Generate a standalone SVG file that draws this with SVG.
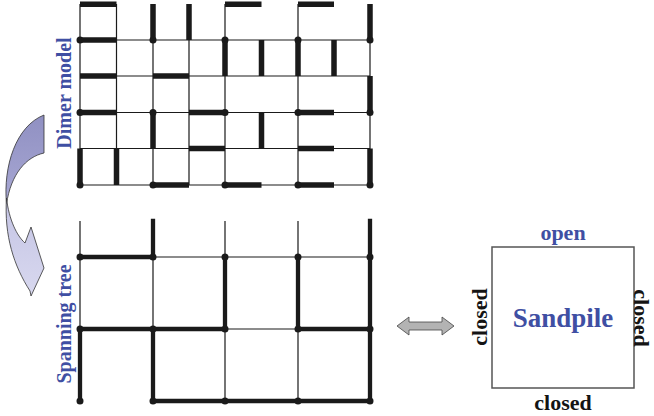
<svg xmlns="http://www.w3.org/2000/svg" width="654" height="416" viewBox="0 0 654 416">
<defs>
<style>
.thin{stroke:#1a1a1a;stroke-width:1.2;fill:none}
.dim{stroke:#1a1a1a;stroke-width:5.5;fill:none;stroke-linecap:butt}
.tr{stroke:#1a1a1a;stroke-width:4.3;fill:none;stroke-linecap:square}
.dot{fill:#1a1a1a}
.lbl{font-family:"Liberation Serif","Times New Roman",serif;font-weight:bold;fill:#3f4fa3}
.blk{font-family:"Liberation Serif","Times New Roman",serif;font-weight:bold;fill:#141414;font-size:22px}
</style>
<linearGradient id="gDark" x1="0" y1="0" x2="0" y2="1">
<stop offset="0" stop-color="#9090c2"/>
<stop offset="1" stop-color="#a8a8d4"/>
</linearGradient>
<linearGradient id="gLight" x1="0" y1="0" x2="0" y2="1">
<stop offset="0" stop-color="#c4c4e4"/>
<stop offset="1" stop-color="#d8d8ef"/>
</linearGradient>
</defs>
<rect width="654" height="416" fill="#ffffff"/>

<g id="dimer-model">
<g class="thin">
<path d="M80,40H370M80,76H370M80,112.5H370M80,148.5H370M80,185H370"/>
<path d="M80,4V185M116.5,4V185M153,4V185M189,4V185M225,4V185M298,4V185M370,4V185"/>
</g>
<g class="dim">
<path d="M80,4.2H116.5M225,4.2H261.5M298,4.2H334M80,40H116.5M80,76H116.5M153,76H189M80,112.5H116.5M189,112.5H225M298,112.5H334M189,148.5H225M298,148.5H334M153,185H189M225,185H261.5M298,185H334"/>
<path d="M153,4V40M189,4V40M370,4V40M225,40V76M261.5,40V76M298,40V76M334,40V76M370,76V112.5M153,112.5V148.5M261.5,112.5V148.5M80,148.5V185M116.5,148.5V185M370,148.5V185"/>
</g>
<g class="dot">
<circle cx="80" cy="40" r="3.5"/><circle cx="153" cy="40" r="3.5"/><circle cx="225" cy="40" r="3.5"/><circle cx="298" cy="40" r="3.5"/><circle cx="370" cy="40" r="3.5"/>
<circle cx="80" cy="112.5" r="3.5"/><circle cx="153" cy="112.5" r="3.5"/><circle cx="225" cy="112.5" r="3.5"/><circle cx="298" cy="112.5" r="3.5"/><circle cx="370" cy="112.5" r="3.5"/>
<circle cx="80" cy="185" r="3.5"/><circle cx="153" cy="185" r="3.5"/><circle cx="225" cy="185" r="3.5"/><circle cx="298" cy="185" r="3.5"/><circle cx="370" cy="185" r="3.5"/>
</g>
<text class="lbl" font-size="20" text-anchor="middle" transform="translate(71,93) rotate(-90)">Dimer model</text>
</g>

<g id="spanning-tree">
<g class="thin">
<path d="M153,257H370M225,329H298M80,221V257M225,221V257M298,221V257M80,257V329M153,257V329M225,329V401M298,329V401"/>
</g>
<g class="tr">
<path d="M80,257H153M153,221V257M370,221V257M225,257V329M298,257V329M370,257V329M80,329H225M298,329H370M80,329V401M153,329V401M370,329V401M153,401H370"/>
</g>
<g class="dot">
<circle cx="80" cy="257" r="3.5"/><circle cx="153" cy="257" r="3.5"/><circle cx="225" cy="257" r="3.5"/><circle cx="298" cy="257" r="3.5"/><circle cx="370" cy="257" r="3.5"/>
<circle cx="80" cy="329" r="3.5"/><circle cx="153" cy="329" r="3.5"/><circle cx="225" cy="329" r="3.5"/><circle cx="298" cy="329" r="3.5"/><circle cx="370" cy="329" r="3.5"/>
<circle cx="80" cy="401" r="3.5"/><circle cx="153" cy="401" r="3.5"/><circle cx="225" cy="401" r="3.5"/><circle cx="298" cy="401" r="3.5"/><circle cx="370" cy="401" r="3.5"/>
</g>
<text class="lbl" font-size="20" text-anchor="middle" transform="translate(71,324) rotate(-90)">Spanning tree</text>
</g>

<g id="curved-arrow" stroke="#333" stroke-width="0.8">
<path d="M44,115 L44,153 C26,157 11,174 6.5,204 C3,166 16,126 44,115 Z" fill="url(#gDark)"/>
<path d="M6.5,198 C9,220 17,236 25,243 L31,227 L44,268 L31,296 L30,291 C14,266 4,236 6.5,198 Z" fill="url(#gLight)"/>
</g>

<g id="connectors">
<polygon points="397,326 409,317 409,322 442,322 442,317 454,326 442,335 442,330 409,330 409,335" fill="#b3b3b3" stroke="#444" stroke-width="0.8"/>
</g>

<g id="sandpile">
<rect x="492" y="247" width="142" height="141" fill="none" stroke="#555" stroke-width="1.5"/>
<text class="lbl" font-size="22" text-anchor="middle" x="563" y="240">open</text>
<text class="lbl" font-size="27" text-anchor="middle" x="563" y="327">Sandpile</text>
<text class="blk" text-anchor="middle" x="563" y="410">closed</text>
<text class="blk" text-anchor="middle" transform="translate(487,317) rotate(-90)">closed</text>
<text class="blk" text-anchor="middle" transform="translate(634,318) rotate(90)">closed</text>
</g>
</svg>
